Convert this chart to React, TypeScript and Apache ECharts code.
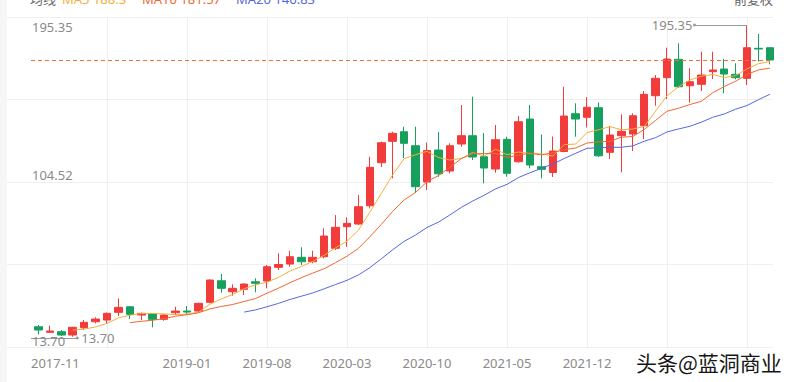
import { useEffect, useRef } from 'react';
import * as echarts from 'echarts';

// ---- data ----
const months = [
  '2017-11', '2017-12',
  '2018-01', '2018-02', '2018-03', '2018-04', '2018-05', '2018-06', '2018-07', '2018-08', '2018-09', '2018-10', '2018-11', '2018-12',
  '2019-01', '2019-02', '2019-03', '2019-04', '2019-05', '2019-06', '2019-07', '2019-08', '2019-09', '2019-10', '2019-11', '2019-12',
  '2020-01', '2020-02', '2020-03', '2020-04', '2020-05', '2020-06', '2020-07', '2020-08', '2020-09', '2020-10', '2020-11', '2020-12',
  '2021-01', '2021-02', '2021-03', '2021-04', '2021-05', '2021-06', '2021-07', '2021-08', '2021-09', '2021-10', '2021-11', '2021-12',
  '2022-01', '2022-02', '2022-03', '2022-04', '2022-05', '2022-06', '2022-07', '2022-08', '2022-09', '2022-10', '2022-11', '2022-12',
  '2023-01', '2023-02', '2023-03', '2023-04',
];

const openPrices = [
  14.46, 20.26, 17.01, 17.36, 15.44, 19.68, 23.16, 24.15, 28.61, 31.87,
  27.05, 27.63, 24.55, 28.38, 29.37, 29.37, 34.42, 46.95, 40.57, 41.96,
  46.37, 46.78, 54.73, 56.65, 60.53, 57.98, 60.89, 65.76, 78.3, 79.86,
  90.48, 115.44, 127.86, 133.43, 125.3, 104.24, 122.81, 110.62, 126.29, 131.11,
  118.92, 111.78, 129.02, 116.02, 140.8, 113.12, 109.75, 121.94, 143.87, 141.78,
  147.36, 121.47, 131.11, 132.09, 136.91, 154.32, 164.77, 175.45, 160.12, 160.94,
  168.25, 169.82, 166.74, 164.42, 181.83, 182.18,
];
const closePrices = [
  20.26, 18.34, 17.76, 15.44, 19.91, 22.81, 24.73, 28.03, 31.52, 27.45,
  28.03, 24.55, 27.05, 29.37, 28.79, 33.84, 47.36, 42.55, 42.55, 45.04,
  45.44, 55.08, 56.36, 60.89, 57.98, 60.53, 72.9, 77.95, 80.27, 89.9,
  112.77, 127.04, 132.5, 126.7, 101.51, 122.52, 108.99, 125.3, 131.11, 118.75,
  112.36, 128.79, 109.29, 139.23, 114.1, 111.61, 122.23, 142.54, 140.8, 147.59,
  119.44, 131.51, 133.66, 142.71, 155.13, 164.42, 175.62, 159.54, 162.45, 166.33,
  169.24, 166.91, 164.77, 182.18, 181.42, 175.04,
];
const lowPrices = [
  13.7, 15.85, 16.8, 14.86, 14.46, 18.34, 22.23, 22.23, 26.47, 24.73,
  24.15, 19.91, 23.74, 27.05, 27.05, 28.79, 33.84, 40.0, 38.25, 38.66,
  40.22, 42.55, 53.17, 55.08, 56.07, 57.05, 59.95, 64.77, 66.69, 79.28,
  88.97, 113.0, 106.39, 118.16, 97.85, 99.59, 107.31, 109.29, 124.72, 117.0,
  103.48, 109.63, 107.31, 115.44, 112.19, 106.38, 107.14, 121.5, 130.53, 135.87,
  118.75, 117.58, 109.87, 122.23, 129.19, 148.52, 152.41, 159.0, 150.26, 157.05,
  164.01, 155.71, 163.84, 160.53, 174.05, 172.54,
];
const highPrices = [
  21.25, 21.25, 20.84, 18.3, 20.26, 24.15, 25.71, 28.5, 36.74, 32.1,
  28.38, 27.8, 27.46, 31.87, 32.28, 34.19, 47.77, 50.84, 44.87, 45.44,
  48.35, 56.07, 62.86, 64.37, 66.34, 64.37, 77.36, 85.08, 83.75, 96.69,
  118.92, 127.62, 133.43, 136.33, 136.33, 127.16, 133.25, 126.7, 148.92, 153.74,
  132.67, 137.32, 130.53, 142.54, 148.92, 131.8, 130.64, 159.54, 149.91, 153.45,
  150.37, 136.74, 143.53, 144.11, 157.05, 166.33, 182.18, 184.73, 170.22, 179.86,
  179.86, 175.62, 173.12, 195.35, 190.13, 182.18,
];

const xLabelMonths = ['2017-11', '2019-01', '2019-08', '2020-03', '2020-10', '2021-05', '2021-12'];
const gridMonths = ['2018-06', '2019-01', '2019-08', '2020-03', '2020-10', '2021-05', '2021-12', '2022-07', '2023-02'];
const yTickValues = [13.7, 104.525, 195.35];
const yTickLabels = ['13.70', '104.52', '195.35'];
const legendTexts = ['均线', 'MA5 188.3', 'MA10 181.57', 'MA20 146.83'];
const adjustText = '前复权';
const volumeText = '成交量1.33万手';
const watermarkText = '头条@蓝洞商业';

// ---- view window & styling ----
const X_MIN = 0.35;
const X_MAX = 65.27;
const Y_MIN = 8.5;
const Y_MAX = 200;
const RED = '#F23B3B';
const GREEN = '#17A05D';
const MA_COLORS = ['#F5AE3C', '#F0682E', '#5468DD'];
const GRID_COLOR = '#EFEFEF';
const FONT = '"Noto Sans", "Noto Sans CJK SC", sans-serif';

function movingAverage(values: number[], n: number): number[][] {
  const out: number[][] = [];
  for (let i = n - 1; i < values.length; i++) {
    let s = 0;
    for (let j = i - n + 1; j <= i; j++) s += values[j];
    out.push([i, +(s / n).toFixed(3)]);
  }
  return out;
}

export default function App() {
  const ref = useRef<HTMLDivElement>(null);

  useEffect(() => {
    if (!ref.current) return;
    const chart = echarts.init(ref.current, undefined, { renderer: 'svg' });

    const candleData = months.map((_, i) => [i, openPrices[i], closePrices[i], lowPrices[i], highPrices[i]]);
    const maxIdx = highPrices.indexOf(Math.max(...highPrices));
    const minIdx = lowPrices.indexOf(Math.min(...lowPrices));
    const maxVal = highPrices[maxIdx];
    const minVal = lowPrices[minIdx];
    const lastClose = closePrices[closePrices.length - 1];

    const xLabelValues = xLabelMonths.map((m) => Math.max(months.indexOf(m), X_MIN));
    const yKeys = ['b', 'm', 't'];

    const legendX = [30, 62, 142, 236];
    const legendColors = ['#666666', MA_COLORS[0], MA_COLORS[1], MA_COLORS[2]];

    const markerLabel = (text: string, distance: number) => ({
      show: true,
      position: 'end',
      distance,
      formatter: () => text,
      color: '#8a8a8a',
      fontSize: 13,
      fontFamily: FONT,
    });

    const option: any = {
      animation: false,
      backgroundColor: '#ffffff',
      textStyle: { fontFamily: FONT },
      grid: [
        { left: 7, right: 20, top: 17, bottom: 35 },
        { left: 31, right: 20, top: 17, bottom: 35 },
      ],
      xAxis: [
        { gridIndex: 0, type: 'value', min: 0, max: 1, show: false },
        {
          gridIndex: 1,
          type: 'value',
          min: X_MIN,
          max: X_MAX,
          axisLine: { show: false },
          axisTick: { show: false },
          splitLine: { show: false },
          axisLabel: {
            customValues: xLabelValues,
            formatter: (v: number) => months[Math.round(v)],
            alignMinLabel: 'left',
            color: '#8a8a8a',
            fontSize: 13,
            margin: 9,
            fontFamily: FONT,
          },
        },
      ],
      yAxis: [
        {
          gridIndex: 0,
          type: 'value',
          min: 0,
          max: 4,
          interval: 1,
          axisLine: { show: false },
          axisTick: { show: false },
          axisLabel: { show: false },
          splitLine: { show: true, lineStyle: { color: GRID_COLOR, width: 1 } },
        },
        {
          gridIndex: 1,
          type: 'value',
          min: Y_MIN,
          max: Y_MAX,
          axisLine: { show: false },
          axisTick: { show: false },
          splitLine: { show: false },
          axisLabel: {
            inside: true,
            margin: 1,
            customValues: yTickValues,
            formatter: (v: number) => {
              let best = 0;
              yTickValues.forEach((t, i) => {
                if (Math.abs(t - v) < Math.abs(yTickValues[best] - v)) best = i;
              });
              return '{' + yKeys[best] + '|' + yTickLabels[best] + '}';
            },
            color: '#8a8a8a',
            fontSize: 13,
            fontFamily: FONT,
            rich: {
              b: { padding: [5, 0, 0, 0], color: '#8a8a8a', fontSize: 13, fontFamily: FONT },
              m: { padding: [0, 0, 13, 0], color: '#8a8a8a', fontSize: 13, fontFamily: FONT },
              t: { padding: [4, 0, 0, 0], color: '#8a8a8a', fontSize: 13, fontFamily: FONT },
            },
          },
          z: 10,
        },
      ],
      series: [
        {
          type: 'candlestick',
          xAxisIndex: 1,
          yAxisIndex: 1,
          data: candleData,
          encode: { x: 0, y: [1, 2, 3, 4] },
          barWidth: 8,
          clip: true,
          itemStyle: {
            color: RED,
            color0: GREEN,
            borderColor: RED,
            borderColor0: GREEN,
            borderWidth: 1,
          },
          markLine: {
            silent: true,
            animation: false,
            symbol: ['none', 'none'],
            data: [
              {
                yAxis: lastClose,
                lineStyle: { type: [4, 3], color: '#F0742F', width: 1 },
                label: { show: false },
              },
              [
                { coord: [maxIdx, maxVal], symbol: 'none' },
                {
                  coord: [maxIdx - 4.6, maxVal],
                  symbol: 'circle',
                  symbolSize: 3,
                  lineStyle: { type: 'solid', color: '#9a9a9a', width: 1 },
                  label: markerLabel(maxVal.toFixed(2), 2),
                },
              ],
              [
                { coord: [Math.max(minIdx, X_MIN), minVal], symbol: 'none' },
                {
                  coord: [minIdx + 4.4, minVal],
                  symbol: 'circle',
                  symbolSize: 3,
                  lineStyle: { type: 'solid', color: '#9a9a9a', width: 1 },
                  label: markerLabel(minVal.toFixed(2), 4),
                },
              ],
            ],
          },
        },
        ...[5, 10, 20].map((n, k) => ({
          type: 'line',
          xAxisIndex: 1,
          yAxisIndex: 1,
          data: movingAverage(closePrices, n),
          showSymbol: false,
          symbol: 'none',
          lineStyle: { color: MA_COLORS[k], width: 1 },
          z: 3,
          ...(k === 2
            ? {
                markLine: {
                  silent: true,
                  animation: false,
                  symbol: ['none', 'none'],
                  z: 0,
                  label: { show: false },
                  lineStyle: { color: GRID_COLOR, width: 1, type: 'solid' },
                  data: gridMonths.map((m) => ({ xAxis: months.indexOf(m) })),
                },
              }
            : {}),
        })),
      ],
      graphic: [
        { type: 'rect', left: 0, top: 0, shape: { width: 7, height: 382 }, style: { fill: '#F6F6F7' }, z: -1 },
        ...legendTexts.map((t, i) => ({
          type: 'text',
          x: legendX[i],
          y: -1,
          style: { text: t, fill: legendColors[i], fontSize: 13, fontFamily: FONT, align: 'left', verticalAlign: 'middle' },
        })),
        {
          type: 'text',
          x: 773,
          y: -1,
          style: { text: adjustText, fill: '#666666', fontSize: 13, fontFamily: FONT, align: 'right', verticalAlign: 'middle' },
        },
        {
          type: 'text',
          x: 30,
          y: 388,
          style: { text: volumeText, fill: '#666666', fontSize: 13, fontFamily: FONT, align: 'left', verticalAlign: 'middle' },
        },
        {
          type: 'text',
          x: 636,
          y: 362,
          z: 100,
          style: {
            text: watermarkText,
            fill: '#161616',
            fontSize: 21,
            fontFamily: '"Noto Sans CJK SC", sans-serif',
            align: 'left',
            verticalAlign: 'middle',
          },
        },
      ],
    };

    chart.setOption(option);
    return () => chart.dispose();
  }, []);

  return (
    <div
      ref={ref}
      style={{ position: 'fixed', left: 0, top: 0, width: 793, height: 382, background: '#fff' }}
    />
  );
}
